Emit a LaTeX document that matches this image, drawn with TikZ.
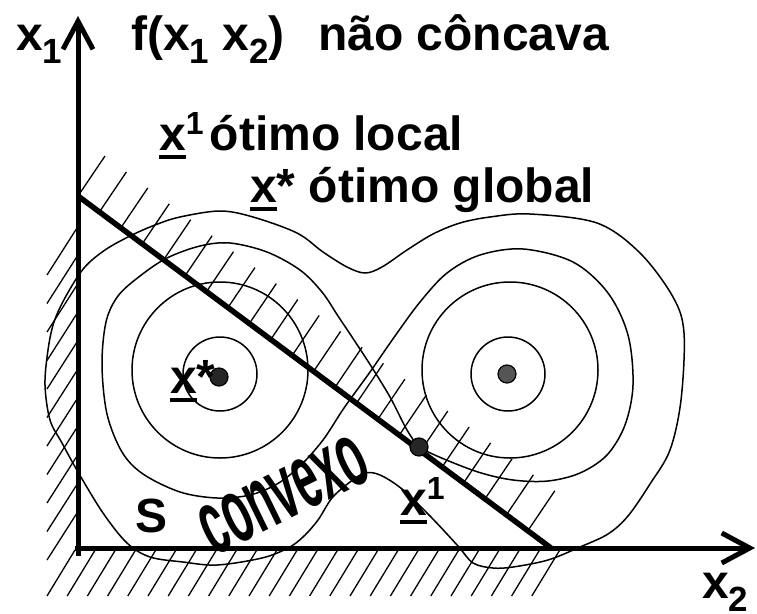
\documentclass[tikz,border=0pt]{standalone}
\usepackage{fontspec}
\setmainfont{Liberation Sans}
\usepackage{graphicx}
\usetikzlibrary{arrows.meta,calc}
\definecolor{ink}{HTML}{000000}
\definecolor{dotdark}{HTML}{262626}
\definecolor{dotgray}{HTML}{555555}
\newcommand{\bigsans}{\fontsize{48}{50}\selectfont\bfseries}
\newcommand{\lowidx}[1]{\raisebox{-13pt}{\fontsize{35}{36}\selectfont #1}}
\newcommand{\upidx}[1]{\raisebox{16pt}{\fontsize{32}{34}\selectfont #1}}
\newcommand{\ulx}{\rlap{\rule[-9pt]{27pt}{4.5pt}}x}
\tikzset{
  axisline/.style={draw=ink,line width=5pt,
                   -{Straight Barb[length=28pt,width=30pt]}},
  limitline/.style={draw=ink,line width=5.5pt},
  contour/.style={draw=ink,line width=1.5pt},
  hatch/.style={draw=ink,line width=1.3pt},
  optdot/.style={circle,draw=ink,line width=1.2pt,
                 minimum size=18pt,inner sep=0pt},
  lbl/.style={font=\bigsans,anchor=base west,inner sep=0pt}
}

\begin{document}
\begin{tikzpicture}[x=1pt,y=-1pt]
  \path[use as bounding box,fill=white] (0,0) rectangle (757,613);

  \coordinate (ybot) at (78,556);
  \coordinate (ytip) at (78,16);
  \coordinate (xbeg) at (75,548);
  \coordinate (xtip) at (755,548);
  \coordinate (cA) at (78,196);
  \coordinate (cB) at (551,548);

  % hatching outside the feasible set
  \foreach \i in {0,...,21}
    \draw[hatch] ($(cA)!{\i*0.951/21}!(cB)$) -- ++(27,-40);
  \foreach \y in {275,303.5,...,561}
    \draw[hatch] (47,\y) -- ++(30,-47);
  \foreach \x in {75,95.2,...,561}
    \draw[hatch] (\x,550) -- ++(-28,46);

  % level curves
  \draw[contour] (220,374) circle[radius=37];
  \draw[contour] (508,374) circle[radius=37];
  \draw[contour] (220,370) circle[radius=88];
  \draw[contour] (510,370) circle[radius=88];
  \draw[contour] plot[smooth cycle,tension=0.55] coordinates {
    (200,246) (230,243) (267,252) (300,270) (322,292) (338,316)
    (354,340) (371,366) (390,397) (407,430) (419,446) (437,456)
    (478,472) (513,480) (548,481) (580,473) (607,455) (625,425)
    (633,385) (628,335) (608,293) (573,262) (523,249) (480,255)
    (447,273) (420,302) (395,336) (370,372) (344,408) (323,440)
    (300,466) (277,484) (250,495) (217,498) (180,492) (143,474)
    (122,452) (107,414) (102,365) (106,322) (118,296) (140,276)
    (167,258)};
  \draw[contour] plot[smooth cycle,tension=0.55] coordinates {
    (180,217) (220,211) (253,217) (297,233) (323,252) (347,267)
    (365,273) (382,267) (407,250) (433,234) (460,223) (490,217)
    (530,214) (597,223) (640,253) (673,297) (684,333) (681,400)
    (670,450) (650,484) (628,516) (608,534) (580,547) (548,560)
    (513,567) (493,568) (473,563) (458,546) (430,516) (402,489)
    (380,475) (365,473) (350,482) (332,498) (318,520) (303,537)
    (288,548) (262,558) (217,565) (183,562) (150,557) (127,543)
    (103,513) (78,472) (62,443) (50,420) (45,385) (48,350)
    (54,322) (66,296) (84,268) (105,250) (130,236) (155,225)};

  % axes and constraint
  \draw[axisline] (ybot) -- (ytip);
  \draw[axisline] (xbeg) -- (xtip);
  \draw[limitline] (cA) -- (cB);

  \node[optdot,fill=dotdark] (xstar) at (219,377) {};
  \node[optdot,fill=dotgray] (xpeak) at (507,374) {};
  \node[optdot,fill=dotdark] (xone) at (419,447) {};

  \node[lbl] (axone) at (16,50) {x\lowidx{1}};
  \node[lbl] (fname) at (131,50) {f(x\lowidx{1} x\lowidx{2})};
  \node[lbl] (nonconc) at (318,50) {não côncava};
  \node[lbl] (localtxt) at (159,150) {\ulx\upidx{1}\hspace{6pt}ótimo local};
  \node[lbl] (globaltxt) at (250,202) {\ulx* ótimo global};
  \node[lbl] (xstarlbl) at (170,393) {\ulx*};
  \node[lbl] (xonelbl) at (400,515) {\ulx\upidx{1}};
  \node[lbl] (setlbl) at (135,532) {S};
  \node[lbl] (axtwo) at (702,598) {x\lowidx{2}};
  \node[rotate=26,inner sep=0pt] (convlbl) at (284,495)
    {\scalebox{0.48}[1]{\fontsize{92}{92}\selectfont\bfseries convexo}};
\end{tikzpicture}
\end{document}
